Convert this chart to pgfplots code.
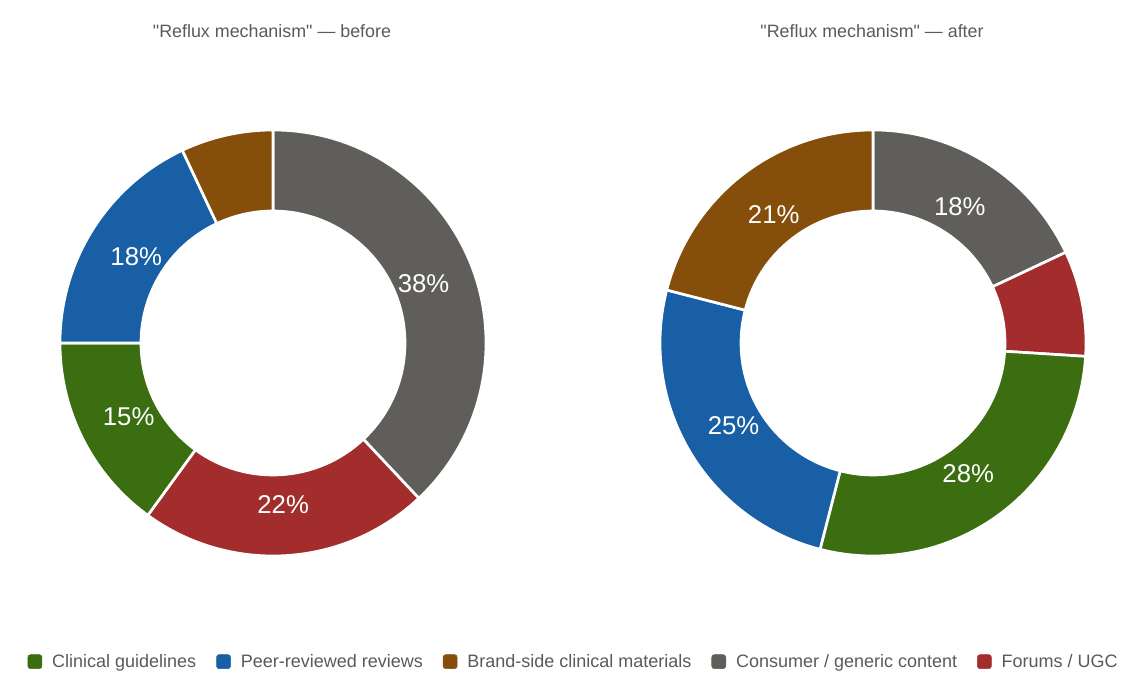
\documentclass[border=0pt]{standalone}
\usepackage{fontspec}
\setmainfont{Liberation Sans}[Ligatures=TeXOff]
\usepackage{pgfplots}
\pgfplotsset{compat=1.18}
\definecolor{cgreen}{HTML}{3B6D11}
\definecolor{cblue}{HTML}{185FA5}
\definecolor{cbrown}{HTML}{854F0B}
\definecolor{cgray}{HTML}{5F5E5A}
\definecolor{cred}{HTML}{A32D2D}
\definecolor{ctext}{HTML}{5A5A5A}
% geometry (pixel units, 1px = 0.75pt)
\def\Rout{213}\def\Rin{132}\def\Rlab{162}\def\cy{338}
\newcommand\donut[1]{\pgfplotsextra{\gdef\cum{0}\gdef\cx{#1}}}
% \slice{value}{colour}{label}
\newcommand\slice[3]{\pgfplotsextra{%
  \pgfmathsetmacro\aS{90-3.6*\cum}%
  \pgfmathsetmacro\newcum{\cum+#1}%
  \xdef\cum{\newcum}%
  \pgfmathsetmacro\aE{90-3.6*\cum}%
  \pgfmathsetmacro\aM{(\aS+\aE)/2}%
  \fill[#2, draw=white, line width=2pt, line join=miter]
    (axis cs:{\cx+\Rout*cos(\aS)},{\cy+\Rout*sin(\aS)})
    arc[start angle=\aS, end angle=\aE, radius=\Rout*0.75pt]
    -- (axis cs:{\cx+\Rin*cos(\aE)},{\cy+\Rin*sin(\aE)})
    arc[start angle=\aE, end angle=\aS, radius=\Rin*0.75pt] -- cycle;
  \node[text=white, font=\fontsize{19.3}{21}\selectfont]
    at (axis cs:{\cx+\Rlab*cos(\aM)},{\cy+\Rlab*sin(\aM)}) {#3};
}}
\begin{document}
\begin{tikzpicture}
\begin{axis}[
  x=0.75pt, y=0.75pt, scale only axis,
  xmin=0, xmax=1134, ymin=0, ymax=681,
  hide axis, clip=false,
  legend columns=5,
  legend style={draw=none, fill=none, at={(axis cs:574,19)}, anchor=center,
    font=\fontsize{13.5}{15}\selectfont, text=ctext,
    /tikz/every odd column/.append style={column sep=5.5pt},
    /tikz/every even column/.append style={column sep=13pt}},
  legend cell align=left,
]
\path (axis cs:0,0) rectangle (axis cs:1134,681);
% before
\donut{273}
\slice{38}{cgray}{38\%}
\slice{22}{cred}{22\%}
\slice{15}{cgreen}{15\%}
\slice{18}{cblue}{18\%}
\slice{7}{cbrown}{}
% after
\donut{873}
\slice{18}{cgray}{18\%}
\slice{8}{cred}{}
\slice{28}{cgreen}{28\%}
\slice{25}{cblue}{25\%}
\slice{21}{cbrown}{21\%}

\node[anchor=base, text=ctext, font=\fontsize{13.4}{15}\selectfont] at (axis cs:272,643) {"Reflux mechanism" — before};
\node[anchor=base, text=ctext, font=\fontsize{13.4}{15}\selectfont] at (axis cs:872,643) {"Reflux mechanism" — after};

\addlegendimage{legend image code/.code={\fill[cgreen, rounded corners=2pt] (0pt,-5pt) rectangle (10.5pt,5.5pt);}}
\addlegendentry{Clinical guidelines}
\addlegendimage{legend image code/.code={\fill[cblue, rounded corners=2pt] (0pt,-5pt) rectangle (10.5pt,5.5pt);}}
\addlegendentry{Peer-reviewed reviews}
\addlegendimage{legend image code/.code={\fill[cbrown, rounded corners=2pt] (0pt,-5pt) rectangle (10.5pt,5.5pt);}}
\addlegendentry{Brand-side clinical materials}
\addlegendimage{legend image code/.code={\fill[cgray, rounded corners=2pt] (0pt,-5pt) rectangle (10.5pt,5.5pt);}}
\addlegendentry{Consumer / generic content}
\addlegendimage{legend image code/.code={\fill[cred, rounded corners=2pt] (0pt,-5pt) rectangle (10.5pt,5.5pt);}}
\addlegendentry{Forums / UGC}
\end{axis}
\end{tikzpicture}
\end{document}
